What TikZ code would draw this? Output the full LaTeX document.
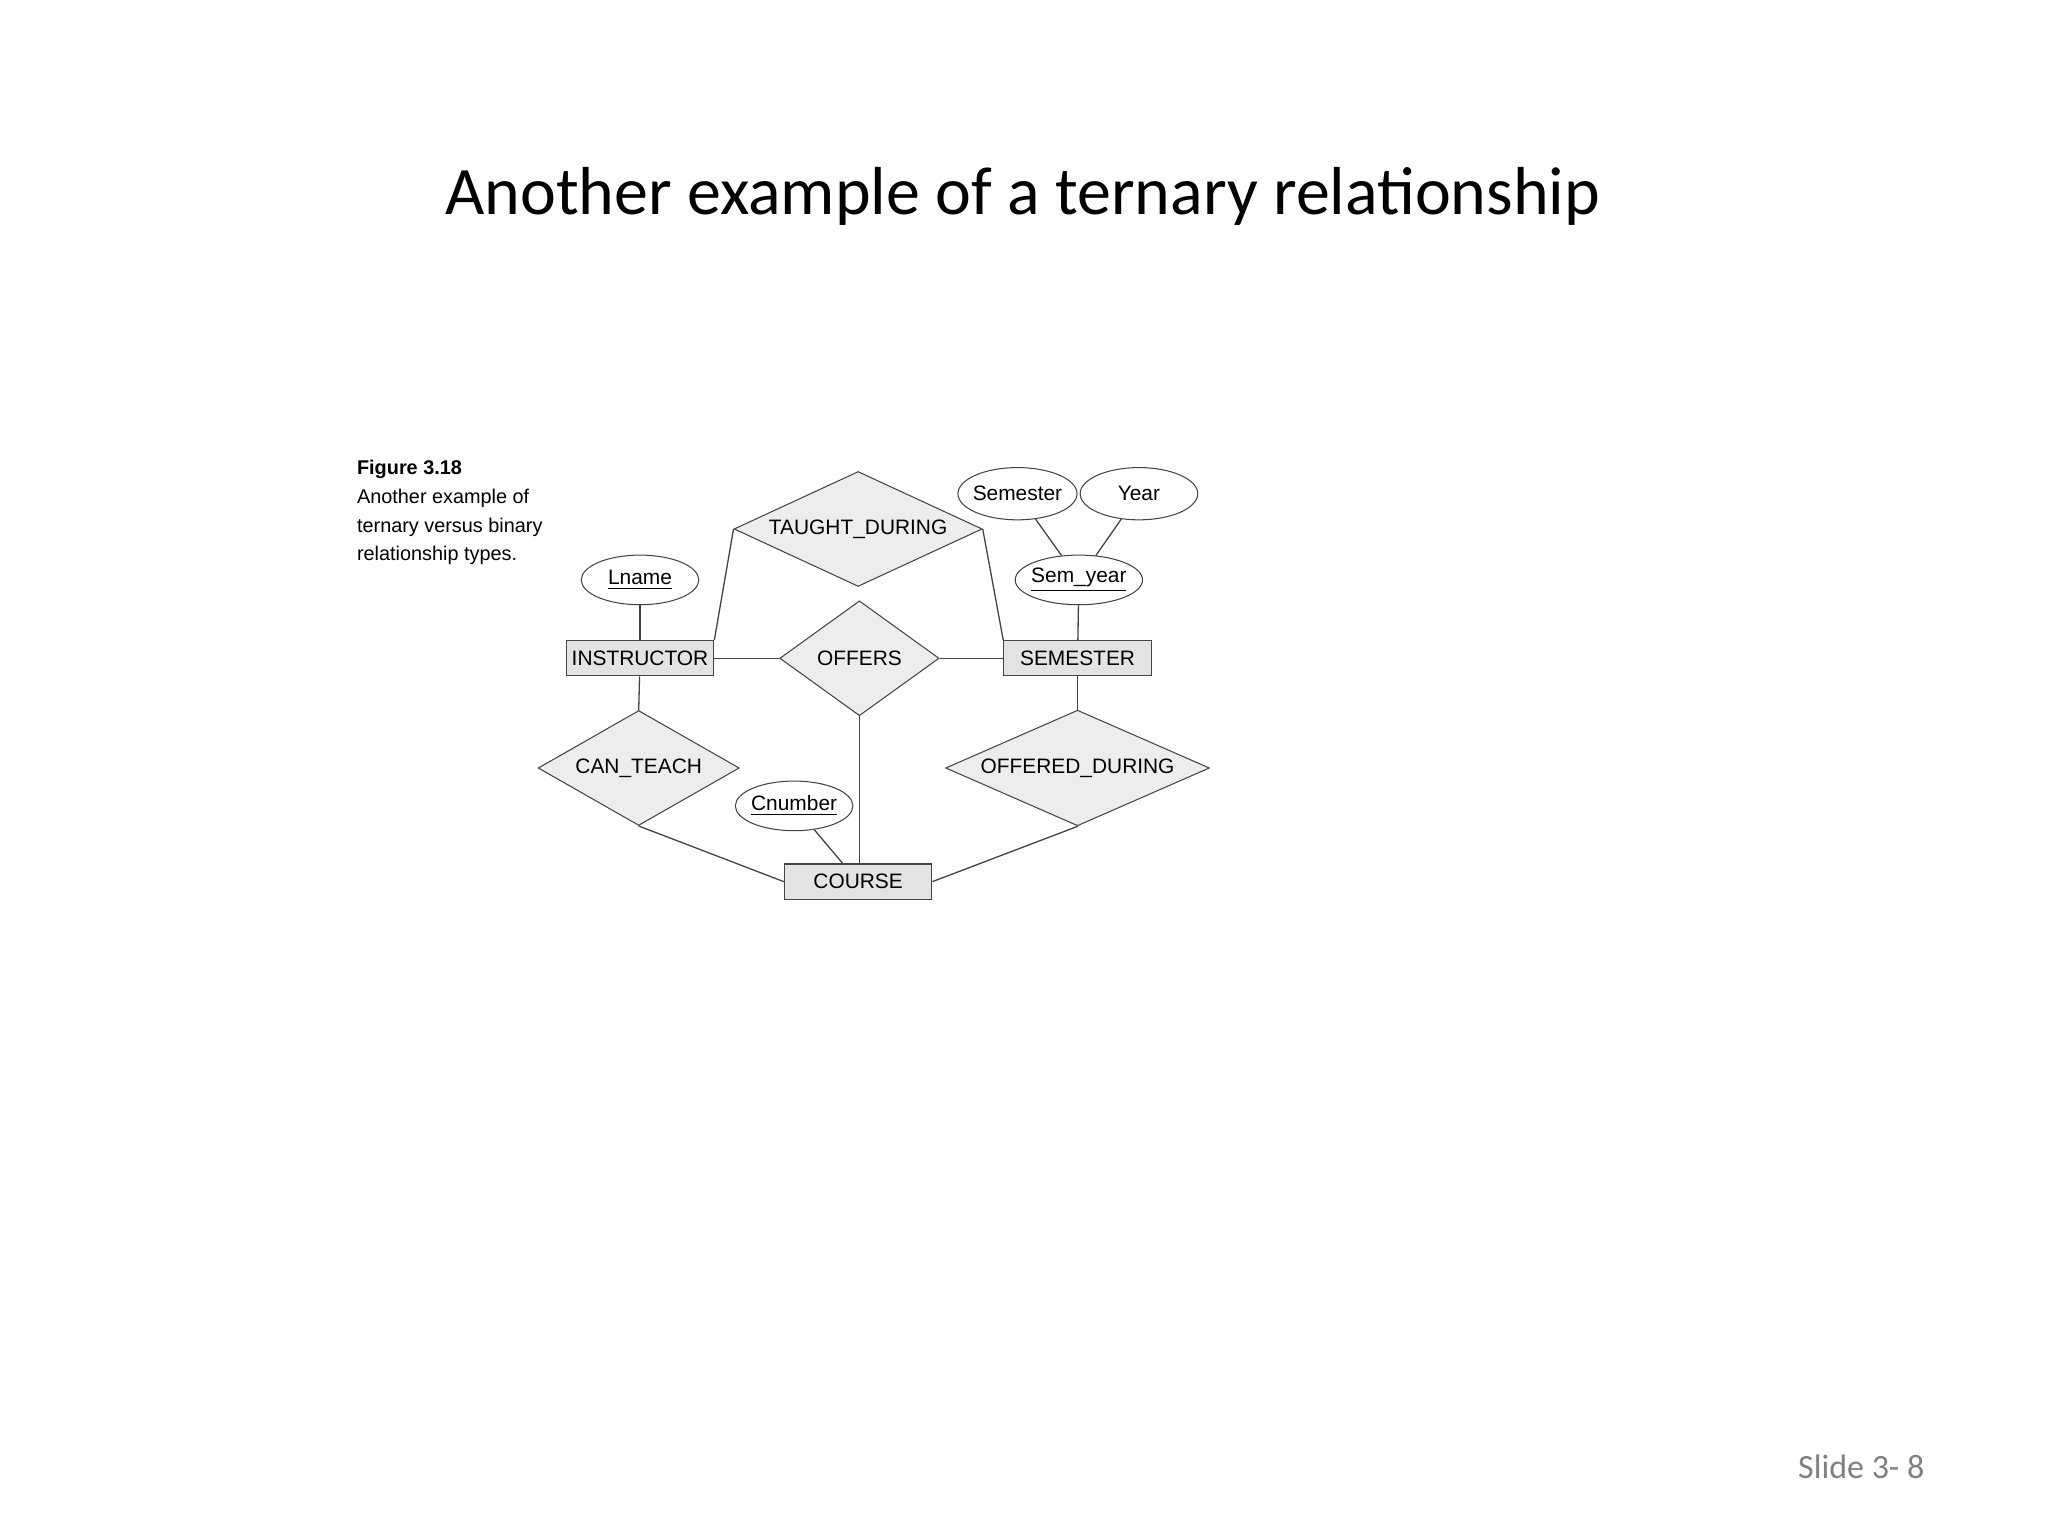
\documentclass[tikz,border=0pt]{standalone}
\usepackage{fontspec}
\setmainfont{Liberation Sans}
\newfontfamily\titlefont{Carlito}
\usetikzlibrary{shapes.geometric}
\definecolor{relfill}{HTML}{EDEDED}
\definecolor{entfill}{HTML}{E3E3E3}
\definecolor{ln}{HTML}{444444}
\begin{document}
\begin{tikzpicture}[x=0.5pt,y=-0.5pt,
  every node/.style={font=\fontsize{8}{9}\selectfont},
  ent/.style={draw=ln,fill=entfill,rectangle,minimum width=56.5pt,minimum height=13.5pt,inner sep=0pt},
  rel/.style={draw=ln,fill=relfill,diamond,inner sep=0pt,aspect=2},
  attr/.style={draw=ln,fill=white,ellipse,minimum width=45pt,minimum height=19pt,inner sep=-1pt},
  conn/.style={draw=ln,line width=0.5pt}]
\useasboundingbox (0,0) rectangle (1568,1176);
\node[font=\titlefont\fontsize{26}{30}\selectfont] (title) at (783,150) {Another example of a ternary relationship};
\node[font=\titlefont\fontsize{13}{15}\selectfont,text=gray] (slide) at (1425,1123) {Slide 3- 8};
\node[anchor=north west,align=left,font=\fontsize{7.6}{11}\selectfont,inner sep=0pt] (cap) at (273,352)
 {\textbf{Figure 3.18}\\Another example of\\ternary versus binary\\relationship types.};
\node[ent] (ins) at (490,504) {INSTRUCTOR};
\node[ent] (sem) at (825,504) {SEMESTER};
\node[ent] (crs) at (657,675) {COURSE};
\node[rel,minimum width=61pt,minimum height=44pt] (off) at (658,504) {OFFERS};
\node[rel,minimum width=95pt,minimum height=44pt] (td) at (657,405) {TAUGHT\_DURING};
\node[rel,minimum width=77pt,minimum height=44pt] (ct) at (489,588) {CAN\_TEACH};
\node[rel,minimum width=101pt,minimum height=44pt] (od) at (825,588) {OFFERED\_DURING};
\node[attr] (ln) at (490,444) {\underline{Lname}};
\node[attr] (sy) at (826,444) {\underline{Sem\_year}};
\node[attr,minimum height=20pt] (sa) at (779,378) {Semester};
\node[attr,minimum height=20pt] (yr) at (872,378) {Year};
\node[attr] (cn) at (608,617) {\underline{Cnumber}};
\draw[conn] (ln) -- (ins);
\draw[conn] (ins) -- (ct.north);
\draw[conn] (ins.east) -- (off.west);
\draw[conn] (off.east) -- (sem.west);
\draw[conn] (off.south) -- (off.south |- crs.north);
\draw[conn] (td.west) -- (ins.north east);
\draw[conn] (td.east) -- (sem.north west);
\draw[conn] (sa) -- (sy);
\draw[conn] (yr) -- (sy);
\draw[conn] (sy) -- (sem);
\draw[conn] (sem) -- (od.north);
\draw[conn] (ct.south) -- (crs.west);
\draw[conn] (od.south) -- (crs.east);
\draw[conn] (cn) -- (crs);
\end{tikzpicture}
\end{document}
